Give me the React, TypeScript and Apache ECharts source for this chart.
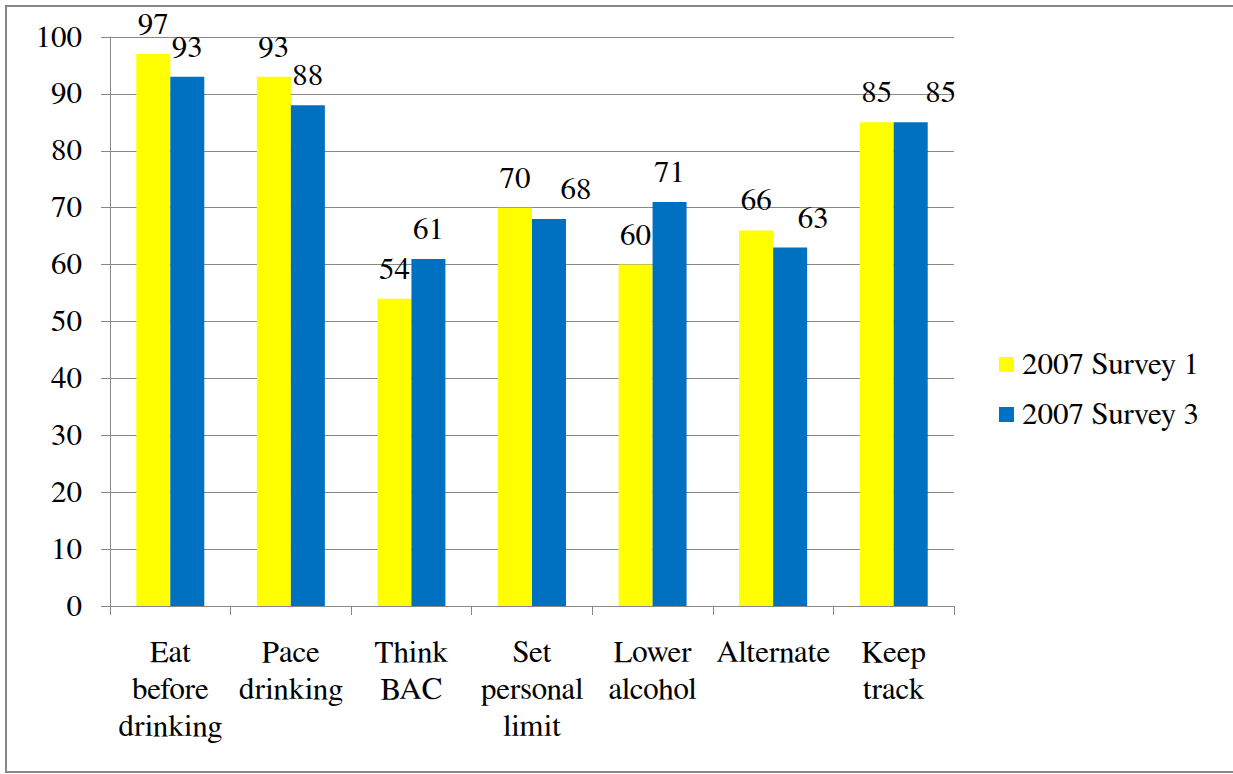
import React, { useEffect, useRef } from "react";
import * as echarts from "echarts";

// Drinking-strategy categories (shown on two or three lines under the axis)
const categories = [
  "Eat\nbefore\ndrinking",
  "Pace\ndrinking",
  "Think\nBAC",
  "Set\npersonal\nlimit",
  "Lower\nalcohol",
  "Alternate",
  "Keep\ntrack",
];

const survey1Name = "2007 Survey 1";
const survey3Name = "2007 Survey 3";

// Percentages per strategy
const survey1Values = [97, 93, 54, 70, 60, 66, 85];
const survey3Values = [93, 88, 61, 68, 71, 63, 85];

const FONT = "Nimbus Roman, FreeSerif, Noto Serif, DejaVu Serif";
const FONT_SIZE = 31;
const GRAY = "#888888";

// Some Survey 3 value labels are nudged right so they clear their neighbours
const survey3LabelNudge: Record<number, number> = { 3: 27, 5: 23, 6: 30 };

export default function App() {
  const ref = useRef<HTMLDivElement>(null);

  useEffect(() => {
    if (!ref.current) return;
    const chart = echarts.init(ref.current, undefined, { renderer: "svg" });

    const barLabel = {
      show: true,
      position: "top" as const,
      distance: 14,
      color: "#000",
      fontFamily: FONT,
      fontSize: FONT_SIZE,
    };

    const survey3Data = survey3Values.map((v, i) =>
      survey3LabelNudge[i] !== undefined
        ? { value: v, label: { offset: [survey3LabelNudge[i], 0] } }
        : v
    );

    chart.setOption({
      animation: false,
      backgroundColor: "#ffffff",
      textStyle: { fontFamily: FONT, color: "#000" },
      graphic: [
        {
          type: "rect",
          shape: { x: 6, y: 6, width: 1240, height: 766 },
          style: { fill: "none", stroke: GRAY, lineWidth: 2 },
          silent: true,
          z: -1,
        },
      ],
      grid: { left: 110, right: 279, top: 37, bottom: 168 },
      legend: {
        orient: "vertical",
        left: 999,
        top: 349,
        padding: 0,
        icon: "rect",
        itemWidth: 15,
        itemHeight: 15,
        itemGap: 19,
        textStyle: {
          fontFamily: FONT,
          fontSize: FONT_SIZE,
          color: "#000",
          padding: [0, 0, 0, 3],
        },
        data: [survey1Name, survey3Name],
      },
      xAxis: {
        type: "category",
        data: categories,
        axisLine: { show: true, lineStyle: { color: GRAY, width: 1 } },
        axisTick: { show: true, length: 9, lineStyle: { color: GRAY } },
        axisLabel: {
          interval: 0,
          margin: 28,
          fontFamily: FONT,
          fontSize: FONT_SIZE,
          lineHeight: 37,
          color: "#000",
          align: "center",
        },
      },
      yAxis: {
        type: "value",
        min: 0,
        max: 100,
        interval: 10,
        axisLine: { show: true, lineStyle: { color: GRAY, width: 1 } },
        axisTick: { show: true, length: 9, lineStyle: { color: GRAY } },
        splitLine: { show: true, lineStyle: { color: GRAY, width: 1 } },
        axisLabel: { margin: 28, fontFamily: FONT, fontSize: FONT_SIZE, color: "#000" },
      },
      series: [
        {
          name: survey1Name,
          type: "bar",
          data: survey1Values,
          barWidth: 34,
          barGap: "0%",
          itemStyle: { color: "#FFFF00" },
          label: barLabel,
        },
        {
          name: survey3Name,
          type: "bar",
          data: survey3Data,
          barWidth: 34,
          barGap: "0%",
          itemStyle: { color: "#0070C0" },
          label: barLabel,
        },
      ],
    });

    return () => chart.dispose();
  }, []);

  return (
    <div
      ref={ref}
      style={{ position: "fixed", left: 0, top: 0, width: 1233, height: 774 }}
    />
  );
}
